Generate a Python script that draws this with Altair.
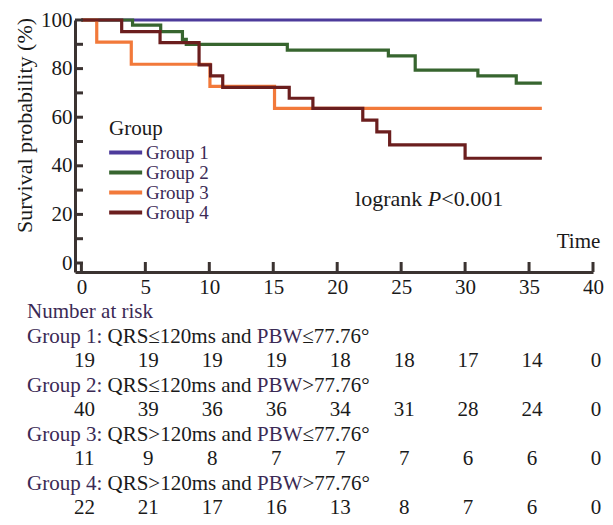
import altair as alt
import pandas as pd

FONT = "Liberation Serif"
AXIS_COL = "#3b3331"
PURPLE_TXT = "#3b2a55"
BLACK_TXT = "#1a1a1a"

groups = ["Group 1", "Group 2", "Group 3", "Group 4"]
colors = ["#4d3b9b", "#37652f", "#f2793a", "#6b1e1e"]

g1_t = [0, 36]
g1_s = [100, 100]
g2_t = [0, 4.0, 6.2, 7.9, 8.2, 16.1, 24.0, 26.1, 31.0, 34.0, 36]
g2_s = [100, 97.9, 95.2, 92.0, 90.0, 87.6, 85.2, 79.4, 77.0, 74.0, 74.0]
g3_t = [0, 1.2, 3.9, 10.05, 15.1, 36]
g3_s = [100, 90.9, 81.8, 72.7, 63.6, 63.6]
g4_t = [0, 3.15, 6.15, 9.2, 10.1, 11.05, 16.25, 18.1, 22.0, 23.1, 24.1, 30.0, 36]
g4_s = [100, 95.2, 90.7, 81.5, 77.0, 72.3, 67.8, 63.6, 58.8, 54.0, 48.6, 43.1, 43.1]

risk_times = [0, 5, 10, 15, 20, 25, 30, 35, 40]
risk_g1 = [19, 19, 19, 19, 18, 18, 17, 14, 0]
risk_g2 = [40, 39, 36, 36, 34, 31, 28, 24, 0]
risk_g3 = [11, 9, 8, 7, 7, 7, 6, 6, 0]
risk_g4 = [22, 21, 17, 16, 13, 8, 7, 6, 0]

qrs_parts = ["QRS≤120ms and", "QRS≤120ms and", "QRS>120ms and", "QRS>120ms and"]
pbw_parts = ["≤77.76°", ">77.76°", "≤77.76°", ">77.76°"]

y_ticks = [0, 20, 40, 60, 80, 100]
y_minor = [0, 10, 20, 30, 40, 50, 60, 70, 80, 90, 100]
x_ticks = [0, 5, 10, 15, 20, 25, 30, 35, 40]

W, H = 518, 252
FS = 21

# ---- survival curves
rows = []
for g, ts, ss in zip(groups, [g1_t, g2_t, g3_t, g4_t], [g1_s, g2_s, g3_s, g4_s]):
    for t, s in zip(ts, ss):
        rows.append({"group": g, "time": t, "surv": s})
surv = pd.DataFrame(rows)

xscale = alt.Scale(domain=[-0.5, 40], nice=False, zero=False)
yscale = alt.Scale(domain=[-3.7, 100], nice=False, zero=False)

xaxis = alt.Axis(values=x_ticks, tickSize=0, labelPadding=4, labelFontSize=FS,
                 labelFont=FONT, labelColor=BLACK_TXT, domainWidth=3,
                 domainColor=AXIS_COL, grid=False, labelFlush=False,
                 title="Time", titleFont=FONT, titleFontSize=FS,
                 titleFontWeight="normal", titleColor=BLACK_TXT,
                 titleX=503, titleY=-31, titleAlign="center",
                 titleBaseline="middle")
yaxis = alt.Axis(values=y_ticks, tickSize=0, labelPadding=3, labelFontSize=FS,
                 labelFont=FONT, labelColor=BLACK_TXT, domainWidth=3,
                 domainColor=AXIS_COL, grid=False,
                 title="Survival probability (%)", titleFont=FONT,
                 titleFontSize=22, titleFontWeight="normal",
                 titleColor=BLACK_TXT, titleX=-51, titleY=105,
                 titleAngle=270, titleAlign="center",
                 titleBaseline="middle")

X = alt.X("time:Q", scale=xscale, axis=xaxis)
Y = alt.Y("surv:Q", scale=yscale, axis=yaxis)

lines = alt.Chart(surv).mark_line(interpolate="step-after", strokeWidth=3.2).encode(
    x=X, y=Y,
    color=alt.Color("group:N", scale=alt.Scale(domain=groups, range=colors),
                    legend=alt.Legend(orient="none", legendX=34, legendY=98,
                                      title="Group", titleFont=FONT, titleFontSize=FS,
                                      titleFontWeight="normal", titleColor=BLACK_TXT,
                                      titlePadding=4,
                                      labelFont=FONT, labelFontSize=19,
                                      labelColor=PURPLE_TXT, symbolType="M-1.7,0H4.3",
                                      symbolStrokeWidth=4, symbolSize=121,
                                      labelOffset=18, rowPadding=0, padding=0)),
)

# ---- inward ticks
ytick_df = pd.DataFrame({"surv": y_minor})
yticks = alt.Chart(ytick_df).mark_rule(color=AXIS_COL, strokeWidth=3).encode(
    y=Y, x=alt.value(0), x2=alt.value(8))
xtick_df = pd.DataFrame({"time": x_ticks})
xticks = alt.Chart(xtick_df).mark_rule(color=AXIS_COL, strokeWidth=3).encode(
    x=X, y=alt.value(H), y2=alt.value(H - 10))

# ---- text width helper (Times metrics)
TIMES = {"l": 278, "o": 500, "g": 500, "r": 333, "a": 444, "n": 500, "k": 500, " ": 250,
         "G": 722, "u": 500, "p": 500, ":": 278, "Q": 722, "R": 667, "S": 556,
         "≤": 549, "m": 778, "s": 389, "d": 500, "P": 556, "B": 667, "W": 944,
         ">": 564, "<": 564, ".": 250, "°": 400}
for dgt in "0123456789":
    TIMES[dgt] = 500


def tw(s, fs):
    return sum(TIMES.get(c, 500) for c in s) * fs / 1000.0


# ---- logrank annotation (data coordinates)
LR_FS = 22
lr_t, lr_v = 21.4, 23.6
lr_df = pd.DataFrame({"time": [lr_t], "surv": [lr_v]})
lr_base = alt.Chart(lr_df)
lr1 = lr_base.mark_text(text="logrank", font=FONT, fontSize=LR_FS, align="left",
                        baseline="alphabetic", color=BLACK_TXT).encode(x=X, y=Y)
dx_p = tw("logrank ", LR_FS)
lr2 = lr_base.mark_text(text="P", font=FONT, fontSize=LR_FS, fontStyle="italic",
                        align="left", baseline="alphabetic", color=BLACK_TXT,
                        dx=dx_p).encode(x=X, y=Y)
dx_lt = dx_p + 611 * LR_FS / 1000.0
lr3 = lr_base.mark_text(text="<0.001", font=FONT, fontSize=LR_FS, align="left",
                        baseline="alphabetic", color=BLACK_TXT, dx=dx_lt).encode(x=X, y=Y)

# ---- number at risk table
base = alt.Chart(pd.DataFrame({"a": [0]}))
X0 = 27 - 75
Y0 = 318 - 20
STEP = 24.5
layers = []
layers.append(base.mark_text(text="Number at risk", font=FONT, fontSize=FS, align="left",
                             baseline="alphabetic", color=PURPLE_TXT).encode(
    x=alt.value(X0), y=alt.value(Y0)))

for i, (g, q, pb, risk) in enumerate(zip(groups, qrs_parts, pbw_parts,
                                         [risk_g1, risk_g2, risk_g3, risk_g4])):
    yl = Y0 + STEP * (1 + 2 * i)
    yn = Y0 + STEP * (2 + 2 * i)
    head = g + ":"
    segs = [(head, PURPLE_TXT, X0),
            (q, BLACK_TXT, X0 + tw(head + " ", FS)),
            ("PBW", PURPLE_TXT, X0 + tw(head + " " + q + " ", FS)),
            (pb, BLACK_TXT, X0 + tw(head + " " + q + " PBW", FS))]
    for txt, col, xx in segs:
        layers.append(base.mark_text(text=txt, font=FONT, fontSize=FS, align="left",
                                     baseline="alphabetic", color=col).encode(
            x=alt.value(xx), y=alt.value(yl)))
    ndf = pd.DataFrame({"time": risk_times, "n": risk})
    layers.append(alt.Chart(ndf).mark_text(font=FONT, fontSize=FS, align="center",
                                           baseline="alphabetic", color=BLACK_TXT,
                                           dx=3).encode(
        x=X, text="n:Q", y=alt.value(yn)))

chart = alt.layer(lines, yticks, xticks, lr1, lr2, lr3, *layers).properties(
    width=W, height=H,
    autosize=alt.AutoSizeParams(type="none"),
    padding={"left": 75, "top": 20, "right": 613 - 75 - W, "bottom": 525 - 20 - H},
    background="white",
).configure_view(stroke=None)

chart.save("out.html", embed_options={"renderer": "svg", "actions": False})
